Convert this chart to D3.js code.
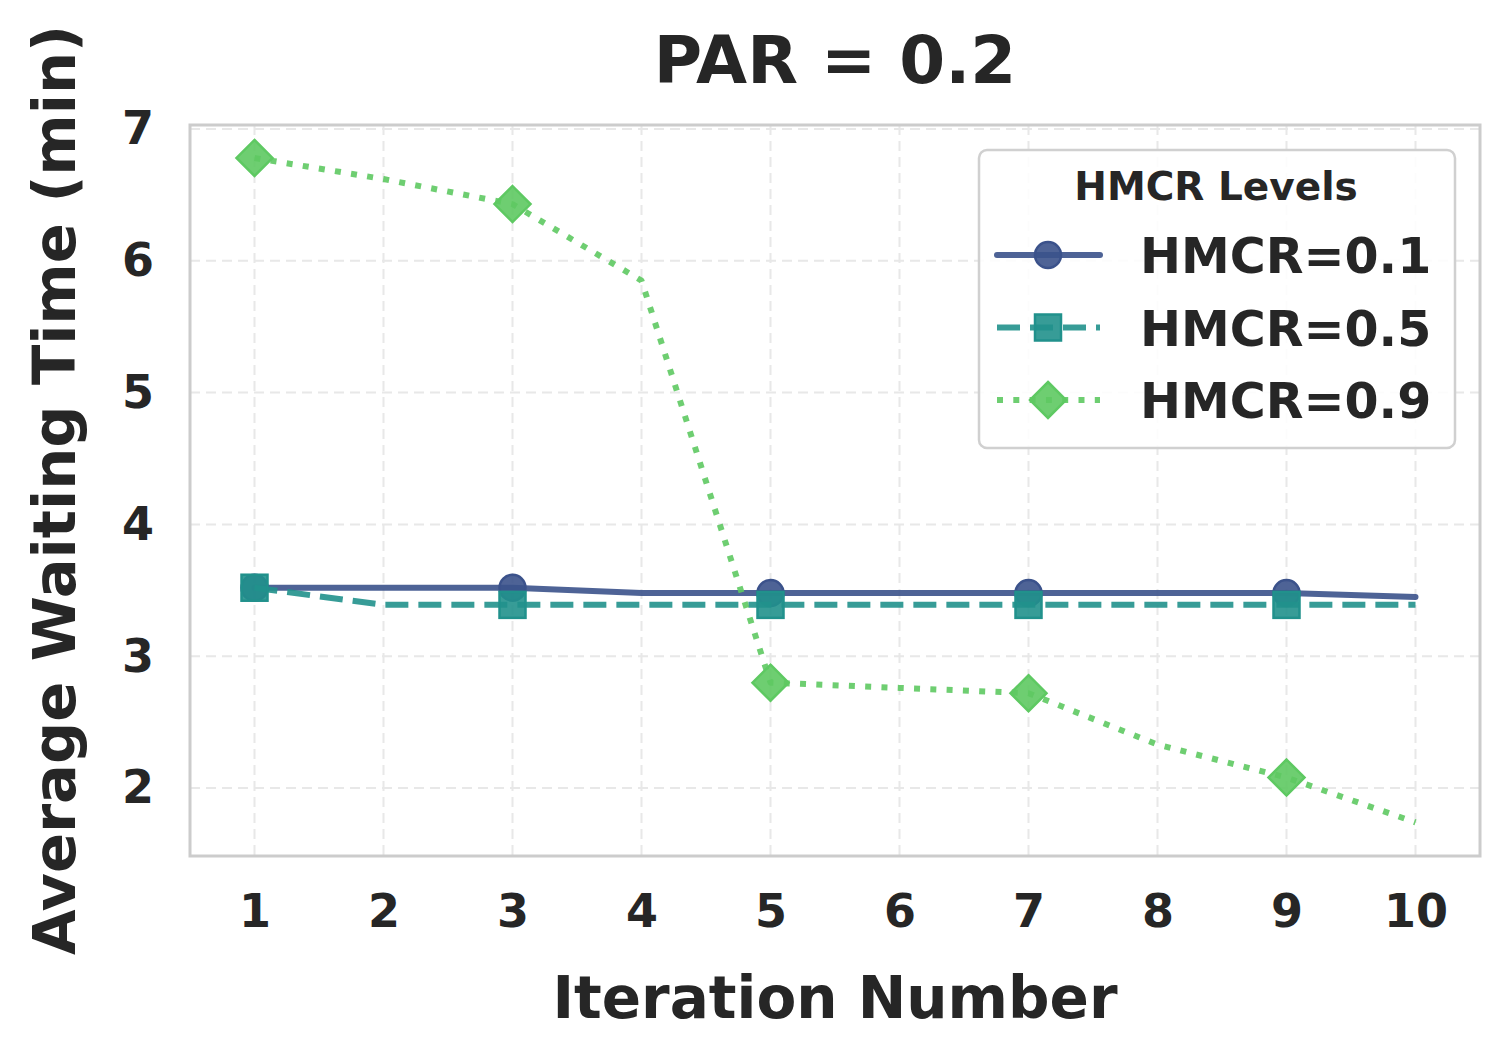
<!DOCTYPE html>
<html>
<head>
<meta charset="utf-8">
<script src="https://cdn.jsdelivr.net/npm/d3@7"></script>
<style>
body { margin: 0; background: #fff; }
text { font-family: "DejaVu Sans", sans-serif; font-weight: bold; fill: #262626; }
</style>
</head>
<body>
<svg id="chart"></svg>
<script>
// iterations and series
var iterations = [1, 2, 3, 4, 5, 6, 7, 8, 9, 10];
var hmcr01 = [3.52, 3.52, 3.52, 3.48, 3.48, 3.48, 3.48, 3.48, 3.48, 3.45];
var hmcr05 = [3.52, 3.39, 3.39, 3.39, 3.39, 3.39, 3.39, 3.39, 3.39, 3.39];
var hmcr09 = [6.78, 6.62, 6.43, 5.85, 2.80, 2.76, 2.72, 2.33, 2.08, 1.74];
var seriesNames = ["HMCR=0.1", "HMCR=0.5", "HMCR=0.9"];
var yTicks = [2, 3, 4, 5, 6, 7];

var W = 1510, H = 1060;
var pl = 190, pt = 125, pw = 1290, ph = 731; // plot area

var svg = d3.select("#chart").attr("width", W).attr("height", H);

var x = d3.scaleLinear().domain([0.5, 10.5]).range([pl, pl + pw]);
var y = d3.scaleLinear().domain([1.485, 7.03]).range([pt + ph, pt]);

var series = [
	{name: seriesNames[0], values: hmcr01, color: "#3b528b", dash: null, marker: "circle"},
	{name: seriesNames[1], values: hmcr05, color: "#21918c", dash: "23,10", marker: "square"},
	{name: seriesNames[2], values: hmcr09, color: "#5ec962", dash: "6,10.3", marker: "diamond"}
];

// grid
var grid = svg.append("g");
grid.selectAll("line.gx").data(iterations).enter().append("line")
	.attr("x1", function(d) { return x(d); }).attr("x2", function(d) { return x(d); })
	.attr("y1", pt).attr("y2", pt + ph)
	.attr("stroke", "#e8e8e8").attr("stroke-width", 2).attr("stroke-dasharray", "10,6");
grid.selectAll("line.gy").data(yTicks).enter().append("line")
	.attr("x1", pl).attr("x2", pl + pw)
	.attr("y1", function(d) { return y(d); }).attr("y2", function(d) { return y(d); })
	.attr("stroke", "#e8e8e8").attr("stroke-width", 2).attr("stroke-dasharray", "10,6");

// frame
svg.append("rect").attr("x", pl).attr("y", pt).attr("width", pw).attr("height", ph)
	.attr("fill", "none").attr("stroke", "#cccccc").attr("stroke-width", 3);

// axes
var xAxis = svg.append("g").attr("transform", "translate(0," + (pt + ph) + ")")
	.call(d3.axisBottom(x).tickValues(iterations).tickSize(0).tickPadding(38).tickFormat(d3.format("d")));
var yAxis = svg.append("g").attr("transform", "translate(" + pl + ",0)")
	.call(d3.axisLeft(y).tickValues(yTicks).tickSize(0).tickPadding(36).tickFormat(d3.format("d")));
xAxis.select(".domain").remove();
yAxis.select(".domain").remove();
xAxis.selectAll("text").attr("font-size", 46).style("font-family", "DejaVu Sans").style("font-weight", "bold").attr("fill", "#262626");
yAxis.selectAll("text").attr("font-size", 46).style("font-family", "DejaVu Sans").style("font-weight", "bold").attr("fill", "#262626");

var line = d3.line().x(function(d, i) { return x(iterations[i]); }).y(function(d) { return y(d); });

function drawMarker(g, type, cx, cy, color) {
	var m;
	if (type === "circle") {
		m = g.append("circle").attr("cx", cx).attr("cy", cy).attr("r", 13);
	} else if (type === "square") {
		m = g.append("rect").attr("x", cx - 13).attr("y", cy - 13).attr("width", 26).attr("height", 26);
	} else {
		m = g.append("path").attr("d", "M" + cx + "," + (cy - 18) + "L" + (cx + 18) + "," + cy + "L" + cx + "," + (cy + 18) + "L" + (cx - 18) + "," + cy + "Z");
	}
	m.attr("fill", color).attr("fill-opacity", 0.9).attr("stroke", color).attr("stroke-width", 2.5);
}

series.forEach(function(s) {
	var g = svg.append("g");
	g.append("path").datum(s.values).attr("d", line)
		.attr("fill", "none").attr("stroke", s.color).attr("stroke-opacity", 0.9)
		.attr("stroke-width", 6).attr("stroke-linejoin", "round")
		.attr("stroke-linecap", s.dash ? "butt" : "round")
		.attr("stroke-dasharray", s.dash);
	s.values.forEach(function(v, i) {
		if (i % 2 === 0) drawMarker(g, s.marker, x(iterations[i]), y(v), s.color);
	});
});

// labels
svg.append("text").attr("x", 835).attr("y", 83).attr("text-anchor", "middle").attr("font-size", 66).text("PAR = 0.2");
svg.append("text").attr("x", 835).attr("y", 1018).attr("text-anchor", "middle").attr("font-size", 58).text("Iteration Number");
svg.append("text").attr("transform", "translate(75," + 490 + ") rotate(-90)").attr("text-anchor", "middle").attr("font-size", 59).text("Average Waiting Time (min)");

// legend
var lg = svg.append("g");
lg.append("rect").attr("x", 979).attr("y", 150).attr("width", 476).attr("height", 298).attr("rx", 8)
	.attr("fill", "#fff").attr("fill-opacity", 0.85).attr("stroke", "#d0d0d0").attr("stroke-width", 2.5);
lg.append("text").attr("x", 1216).attr("y", 200).attr("text-anchor", "middle").attr("font-size", 39).text("HMCR Levels");
series.forEach(function(s, i) {
	var ly = 255 + i * 72.5;
	lg.append("line").attr("x1", 997).attr("x2", 1100).attr("y1", ly).attr("y2", ly)
		.attr("stroke", s.color).attr("stroke-opacity", 0.9).attr("stroke-width", 6)
		.attr("stroke-linecap", s.dash ? "butt" : "round").attr("stroke-dasharray", s.dash);
	drawMarker(lg, s.marker, 1048, ly, s.color);
	lg.append("text").attr("x", 1140).attr("y", ly + 18).attr("font-size", 49).text(s.name);
});
</script>
</body>
</html>
